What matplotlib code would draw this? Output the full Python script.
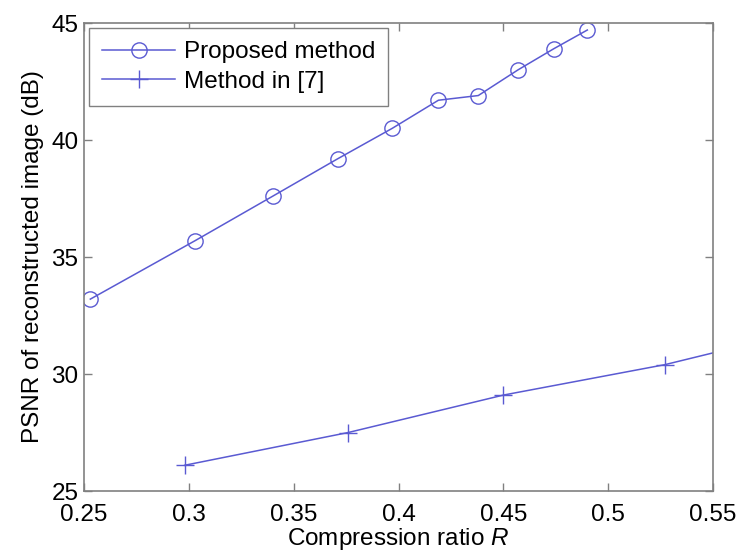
import matplotlib.pyplot as plt

# values
ratioProposed = [0.253, 0.303, 0.340, 0.371, 0.397, 0.419, 0.438, 0.457, 0.474, 0.490]
psnrProposed = [33.2, 35.7, 37.6, 39.2, 40.5, 41.7, 41.9, 43.0, 43.9, 44.7]

ratioRef7 = [0.298, 0.376, 0.450, 0.527, 0.600]
psnrRef7 = [26.1, 27.5, 29.1, 30.4, 32.0]

xTicks = [0.25, 0.3, 0.35, 0.4, 0.45, 0.5, 0.55]
xTickLabels = ["0.25", "0.3", "0.35", "0.4", "0.45", "0.5", "0.55"]
yTicks = [25, 30, 35, 40, 45]

lineColor = "#5a5ad2"
axisColor = "#808080"
fontSize = 17.5

plt.rcParams["font.family"] = ["Liberation Sans", "DejaVu Sans"]
plt.rcParams["mathtext.fontset"] = "custom"
plt.rcParams["mathtext.it"] = "Liberation Sans:italic"

fig = plt.figure(figsize=(7.41, 5.53), dpi=100)
ax = fig.add_axes([0.1134, 0.1121, 0.849, 0.8463])

ax.plot(ratioProposed, psnrProposed, color=lineColor, lw=1.1, marker="o",
        markersize=11, markerfacecolor="none", markeredgecolor=lineColor,
        markeredgewidth=1.0, label="Proposed method")
ax.plot(ratioRef7, psnrRef7, color=lineColor, lw=1.1, marker="+",
        markersize=13, markeredgewidth=1.0, label="Method in [7]")

ax.set_xlim(0.25, 0.55)
ax.set_ylim(25, 45)
ax.set_xticks(xTicks)
ax.set_xticklabels(xTickLabels)
ax.set_yticks(yTicks)

for s in ax.spines.values():
    s.set_color(axisColor)
    s.set_linewidth(1.2)
ax.tick_params(direction="in", length=6, width=1.0, color=axisColor,
               top=True, right=True, labelsize=fontSize)
ax.tick_params(axis="x", pad=9)
ax.tick_params(axis="y", pad=4)

ax.set_xlabel("Compression ratio $R$", fontsize=fontSize, labelpad=0)
ax.set_ylabel("PSNR of reconstructed image (dB)", fontsize=fontSize, labelpad=5)

leg = ax.legend(loc="upper left", fontsize=fontSize, handlelength=3.0,
                handletextpad=0.35, borderaxespad=0.2, labelspacing=0.3,
                borderpad=0.55, fancybox=False, framealpha=1)
leg.get_frame().set_edgecolor(axisColor)
leg.get_frame().set_linewidth(1.0)

fig.savefig("out.png", dpi=100)
